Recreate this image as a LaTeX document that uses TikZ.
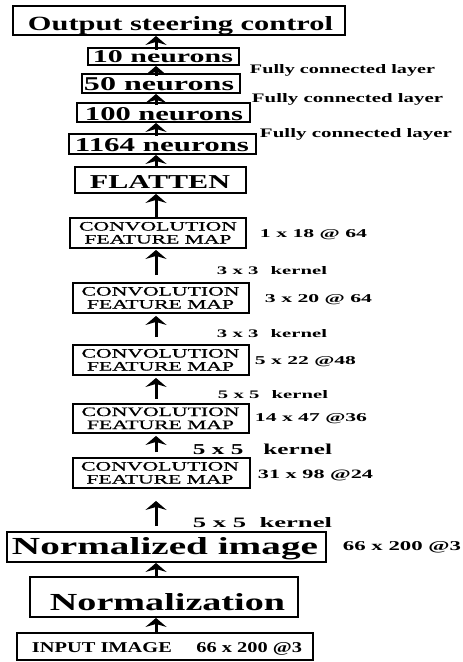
\documentclass[tikz,border=0pt]{standalone}
\usepackage{fontspec}
\setmainfont{Liberation Serif}
\newfontfamily\medserif[FakeBold=0.6]{Liberation Serif}
\usetikzlibrary{arrows.meta,calc}
\newcommand{\fitb}[3]{\resizebox{#1pt}{#2pt}{\bfseries #3}}
\newcommand{\fitr}[3]{\resizebox{#1pt}{#2pt}{\medserif #3}}
\begin{document}
\begin{tikzpicture}[x=1pt,y=-1pt]
\tikzset{
  box/.style={draw,line width=1.9pt,inner sep=0pt},
  txt/.style={inner sep=0pt,anchor=base},
  arr/.style={line width=3pt,-{Stealth[length=9pt,width=21pt,inset=3pt]}},
}
\useasboundingbox[fill=white] (0,0) rectangle (463,662);
\coordinate (col) at (156,0);
% boxes
\node[box,minimum width=332pt,minimum height=29pt] (title) at (179,20.5) {};
\node[box,minimum width=151pt,minimum height=17pt] (n10) at (163.5,56.5) {};
\node[box,minimum width=158pt,minimum height=19pt] (n50) at (161,83.5) {};
\node[box,minimum width=173pt,minimum height=19pt] (n100) at (163.5,112.5) {};
\node[box,minimum width=187pt,minimum height=20pt] (n1164) at (162.5,144) {};
\node[box,minimum width=171pt,minimum height=26pt] (flat) at (160.5,180) {};
\node[box,minimum width=176pt,minimum height=30pt] (c1) at (158,233) {};
\node[box,minimum width=176pt,minimum height=30pt] (c2) at (161,298) {};
\node[box,minimum width=176pt,minimum height=30pt] (c3) at (161,360) {};
\node[box,minimum width=176pt,minimum height=29pt] (c4) at (161,418.5) {};
\node[box,minimum width=177pt,minimum height=30pt] (c5) at (161.5,473) {};
\node[box,minimum width=319pt,minimum height=30pt] (nimg) at (166.5,547) {};
\node[box,minimum width=268pt,minimum height=40pt] (norm) at (164,597) {};
\node[box,minimum width=296pt,minimum height=27pt] (input) at (165,646.5) {};
% box texts
\node[txt] (t-title) at (180.5,30) {\fitb{305}{14}{Output steering control}};
\node[txt] (t-n10) at (163,62) {\fitb{140}{12}{10 neurons}};
\node[txt] (t-n50) at (159,90) {\fitb{150}{13}{50 neurons}};
\node[txt] (t-n100) at (164,120) {\fitb{158}{13}{100 neurons}};
\node[txt] (t-n1164) at (162,151) {\fitb{174}{13}{1164 neurons}};
\node[txt] (t-flat) at (160,188) {\fitb{140}{13}{FLATTEN}};
\foreach \n/\cx/\cy in {c1/158/233, c2/160.5/298, c3/160.5/360, c4/160.5/418.5, c5/160/473}{
  \node[txt] (\n-a) at (\cx,\cy-2.5) {\fitr{158}{8.5}{CONVOLUTION}};
  \node[txt] (\n-b) at (\cx,\cy+10.5) {\fitr{147}{8.5}{FEATURE MAP}};
}
\node[txt] (t-nimg) at (165,554) {\fitb{306}{17}{Normalized image}};
\node[txt] (t-norm) at (167.5,610) {\fitb{235}{17}{Normalization}};
\node[txt] (t-input) at (167,652) {\fitb{270}{10}{INPUT IMAGE\hspace{1.2em}66 x 200 @3}};
% side labels
\node[txt] (fc1) at (342.5,73) {\fitb{185}{9}{Fully connected layer}};
\node[txt] (fc2) at (347.5,102) {\fitb{191}{9}{Fully connected layer}};
\node[txt] (fc3) at (356,137) {\fitb{192}{9}{Fully connected layer}};
\node[txt] (d1) at (313.5,237) {\fitb{107}{8}{1 x 18 @ 64}};
\node[txt] (d2) at (318.5,302) {\fitb{107}{8}{3 x 20 @ 64}};
\node[txt] (d3) at (305.5,364) {\fitb{101}{8}{5 x 22 @48}};
\node[txt] (d4) at (311,421) {\fitb{112}{8}{14 x 47 @36}};
\node[txt] (d5) at (315.5,478) {\fitb{115}{8.5}{31 x 98 @24}};
\node[txt] (d6) at (402,550) {\fitb{118}{9}{66 x 200 @3}};
\node[txt] (k1) at (272,274) {\fitb{110}{8}{3 x 3\hspace{0.6em}kernel}};
\node[txt] (k2) at (272,337) {\fitb{110}{8}{3 x 3\hspace{0.6em}kernel}};
\node[txt] (k3) at (273,398) {\fitb{110}{8}{5 x 5\hspace{0.6em}kernel}};
\node[txt] (k4) at (262.5,454) {\fitb{139}{10.5}{5 x 5\hspace{0.8em}kernel}};
\node[txt] (k5) at (262.5,527) {\fitb{139}{10}{5 x 5\hspace{0.5em}kernel}};
% arrows
\draw[arr] ($(n10.north-|col)+(0,3)$) -- (title.south-|col);
\draw[arr] ($(n50.north-|col)+(0,3)$) -- (n10.south-|col);
\draw[arr] ($(n100.north-|col)+(0,3)$) -- (n50.south-|col);
\draw[arr] ($(n1164.north-|col)+(0,3)$) -- (n100.south-|col);
\draw[arr] ($(flat.north-|col)+(0,2)$) -- (n1164.south-|col);
\draw[arr] (c1.north-|col) -- (flat.south-|col);
\draw[arr] ($(c2.north-|col)+(0,-7)$) -- ($(c1.south-|col)+(0,1)$);
\draw[arr] ($(c3.north-|col)+(0,-7)$) -- ($(c2.south-|col)+(0,2)$);
\draw[arr] ($(c4.north-|col)+(0,-4)$) -- ($(c3.south-|col)+(0,2)$);
\draw[arr] ($(c5.north-|col)+(0,-5)$) -- ($(c4.south-|col)+(0,2)$);
\draw[arr] ($(nimg.north-|col)+(0,-5)$) -- ($(c5.south-|col)+(0,12)$);
\draw[arr] (norm.north-|col) -- (nimg.south-|col);
\draw[arr] (input.north-|col) -- (norm.south-|col);
\end{tikzpicture}
\end{document}
